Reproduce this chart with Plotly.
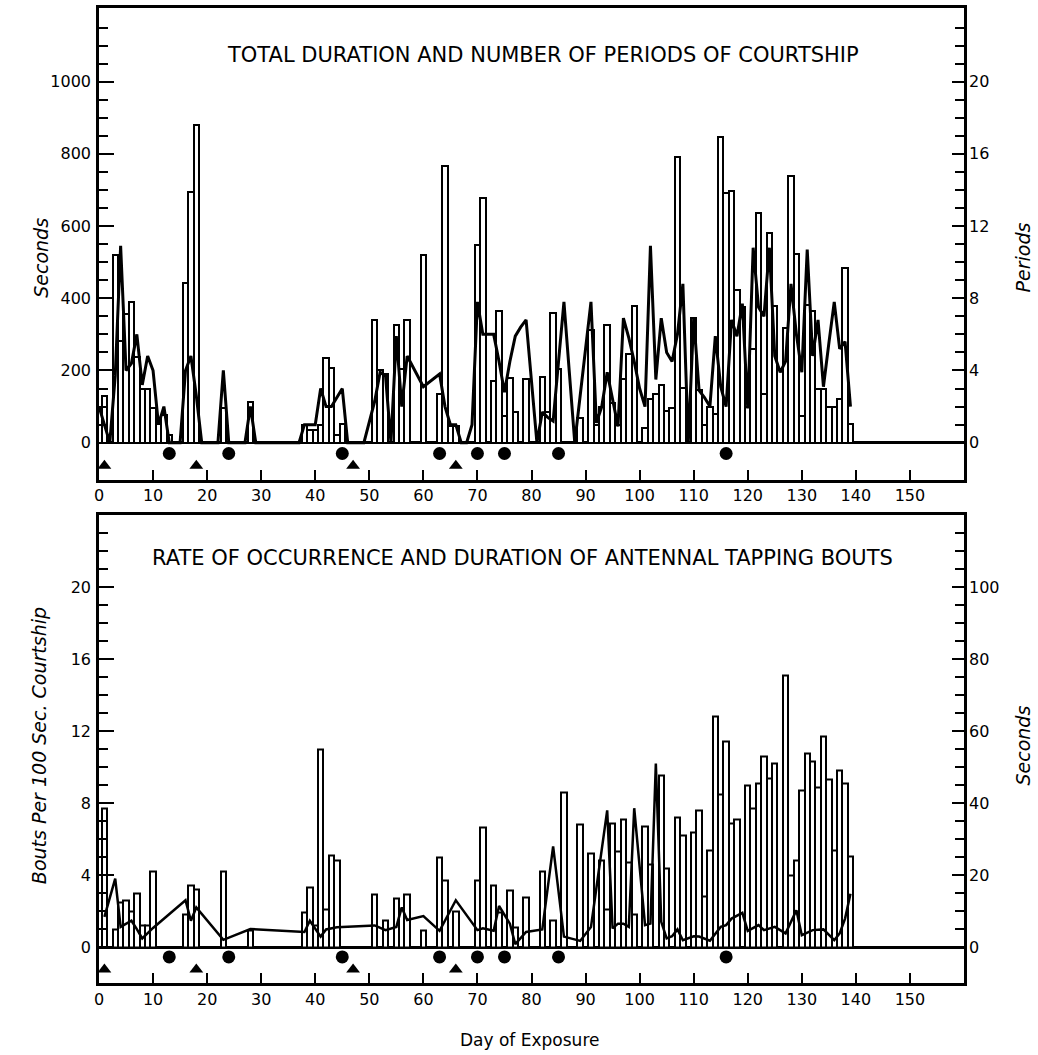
import plotly.graph_objects as go

# ---------------- Courtship: total duration (bars, s) and number of periods (line)
court_days = [0, 1, 3, 4, 5, 6, 7, 8, 9, 10, 11, 12, 13, 16, 17, 18, 23, 28,
              38, 39, 40, 41, 42, 43, 44, 45, 51, 52, 53, 55, 56, 57, 60, 63, 64, 65, 66,
              70, 71, 73, 74, 75, 76, 77, 79, 82, 83, 84, 85, 89, 91, 92, 93, 94, 95, 96, 97,
              98, 99, 101, 102, 103, 104, 105, 106, 107, 108, 110, 111, 112, 113, 114,
              115, 116, 117, 118, 119, 120, 121, 122, 123, 124, 125, 126, 127, 128, 129,
              130, 131, 132, 133, 134, 135, 136, 137, 138, 139]
court_seconds = [100, 130, 520, 282, 357, 391, 236, 150, 150, 95, 53, 76, 21, 443, 693, 880, 95, 113,
                 50, 35, 35, 50, 235, 207, 20, 51, 340, 200, 190, 327, 205, 340, 520, 135, 767, 47, 47,
                 548, 678, 170, 364, 75, 180, 84, 176, 182, 84, 360, 203, 69, 311, 49, 99, 325, 109, 49, 176,
                 247, 378, 40, 121, 134, 161, 87, 95, 792, 152, 345, 145, 50, 100, 80,
                 848, 692, 698, 422, 376, 100, 260, 635, 136, 581, 378, 200, 319, 739, 523,
                 75, 380, 366, 150, 150, 99, 99, 122, 484, 51]

period_days = [0, 1, 2, 3, 4, 5, 6, 7, 8, 9, 10, 11, 12, 13, 14, 15, 16, 17, 18, 19, 22, 23, 24,
               27, 28, 29, 37, 38, 39, 40, 41, 42, 43, 44, 45, 46, 49, 51, 52, 53, 54, 55, 56, 57,
               60, 63, 64, 65, 66, 67, 68, 69, 70, 71, 72, 73, 74, 75, 76, 77, 78, 79, 80, 81,
               82, 83, 84, 85, 86, 87, 88, 89, 90, 91, 92, 93, 94, 95, 96, 97, 98, 99, 100, 101,
               102, 103, 104, 105, 106, 107, 108, 109, 110, 111, 112, 113, 114, 115, 116, 117,
               118, 119, 120, 121, 122, 123, 124, 125, 126, 127, 128, 129, 130, 131, 132, 133,
               134, 135, 136, 137, 138, 139]
period_counts = [2, 1, 0, 3.7, 10.9, 4, 4.4, 6, 3.2, 4.8, 4, 1, 2, 0, 0, 0, 4, 4.8, 2.6, 0, 0, 4, 0,
                 0, 2, 0, 0, 1, 1, 1, 3, 2, 2, 2.5, 3, 0, 0, 2.3, 3.9, 3.7, 0, 5.9, 2, 4.8,
                 3.1, 3.8, 2, 1, 1, 0, 0, 1, 7.8, 6, 6, 6, 4.5, 2.8, 4.5, 5.9, 6.4, 6.8, 3.4, 0,
                 1.7, 1.4, 1.2, 4.5, 7.8, 3.9, 0, 2.6, 5.2, 7.8, 1.1, 2, 3.9, 2.5, 0.9, 6.9, 5.8, 4.5, 3, 2,
                 10.9, 3.5, 6.9, 5, 4.5, 6, 8.8, 0, 6.9, 2.9, 2.5, 2, 5.9, 3.1, 2, 6.8,
                 5.9, 7.7, 1.9, 10.8, 7.5, 7, 10.8, 4.8, 3.9, 4.5, 8.8, 6, 3.9, 10.7, 4.8, 6.8,
                 3.1, 5.5, 7.8, 5.2, 5.6, 2]

# ---------------- Antennal tapping: bout rate (bars) and bout duration (line, s)
tap_days = [1, 3, 4, 5, 6, 7, 8, 9, 10, 16, 17, 18, 23, 28, 38, 39, 40, 41, 42, 43, 44,
            51, 53, 55, 56, 57, 60, 63, 64, 66, 70, 71, 73, 74, 76, 77, 79, 82, 84, 86, 89,
            91, 93, 94, 95, 96, 97, 98, 99, 101, 102, 104, 105, 107, 108, 110, 111, 112, 113,
            114, 115, 116, 117, 118, 120, 121, 122, 123, 124, 125, 127, 128, 129, 130, 131,
            132, 133, 134, 135, 136, 137, 138, 139]
tap_rate = [7.7, 1.0, 2.5, 2.6, 2.0, 3.0, 1.2, 1.2, 4.2, 1.8, 3.4, 3.2, 4.2, 0.9, 1.9, 3.3, 1.2, 11.0, 2.1, 5.1, 4.8,
            2.9, 1.5, 2.7, 2.1, 2.9, 0.9, 5.0, 3.7, 2.0, 3.7, 6.65, 3.4, 1.9, 3.15, 1.1, 2.75, 4.2, 1.5, 8.6, 6.8,
            5.2, 4.8, 2.1, 6.9, 5.3, 7.1, 4.7, 1.8, 6.7, 4.6, 9.55, 4.4, 7.2, 6.2, 6.4, 7.6, 2.8, 5.4,
            12.8, 8.5, 11.45, 6.9, 7.1, 9.0, 7.7, 9.1, 10.6, 9.4, 10.2, 15.1, 4.0, 4.8, 8.7, 10.75,
            10.3, 8.9, 11.7, 9.3, 5.4, 9.8, 9.1, 5.05]

bout_days = [1, 3, 4, 5, 6, 7, 8, 10, 16, 17, 18, 23, 28, 38, 39, 41, 42, 44, 51, 53, 55, 56, 57,
             60, 63, 66, 70, 71, 73, 74, 76, 77, 79, 82, 84, 86, 89, 91, 94, 95, 96, 97, 98, 99,
             101, 102, 103, 104, 105, 106, 107, 108, 110, 111, 113, 115, 116, 117, 119, 120,
             122, 123, 124, 125, 127, 129, 130, 131, 132, 133, 134, 136, 137, 138, 139]
bout_seconds = [8.4, 19, 5.6, 6.5, 7.3, 5, 2.4, 5.3, 13, 7.3, 11, 2, 5, 4.2, 7.3, 2.9, 4.9, 5.5, 6, 4.7, 5.6, 11, 7.5,
                8.6, 4.5, 13, 4.7, 5.2, 4.5, 11.4, 6.5, 0.8, 4.2, 4.9, 28, 2.9, 1.7, 5.6, 38, 5.2, 6.5, 6.5, 5.6, 38.6,
                6.1, 6.5, 51, 7, 2.4, 3, 4.9, 1.9, 3, 2.9, 1.75, 5.6, 6.1, 7.9, 9.5, 4.5,
                6.1, 4.7, 5.2, 5.6, 3.8, 10.2, 3.3, 4, 4.7, 4.8, 4.9, 1.9, 3.8, 7.9, 14.8]

# ---------------- event markers along the strip under each panel
triangle_days = [1, 18, 47, 66]
circle_days = [13, 24, 45, 63, 70, 75, 85, 116]

x_ticks = list(range(0, 160, 10))

INK = "black"
FONT = "'DejaVu Sans', sans-serif"

fig = go.Figure()

# top panel
fig.add_trace(go.Bar(x=court_days, y=court_seconds, width=1, xaxis="x", yaxis="y",
                     marker=dict(color="white", line=dict(color=INK, width=2)), showlegend=False))
fig.add_trace(go.Scatter(x=period_days, y=period_counts, xaxis="x", yaxis="y2", mode="lines",
                         line=dict(color=INK, width=3), showlegend=False))
fig.add_trace(go.Scatter(x=circle_days, y=[-30] * len(circle_days), xaxis="x", yaxis="y", mode="markers",
                         marker=dict(symbol="circle", size=13, color=INK), showlegend=False))
fig.add_trace(go.Scatter(x=triangle_days, y=[-64] * len(triangle_days), xaxis="x", yaxis="y", mode="markers",
                         marker=dict(symbol="triangle-up", size=12, color=INK), showlegend=False))

# bottom panel
fig.add_trace(go.Bar(x=tap_days, y=tap_rate, width=1, xaxis="x2", yaxis="y3",
                     marker=dict(color="white", line=dict(color=INK, width=2)), showlegend=False))
fig.add_trace(go.Scatter(x=bout_days, y=bout_seconds, xaxis="x2", yaxis="y4", mode="lines",
                         line=dict(color=INK, width=2.5), showlegend=False))
fig.add_trace(go.Scatter(x=circle_days, y=[-0.55] * len(circle_days), xaxis="x2", yaxis="y3", mode="markers",
                         marker=dict(symbol="circle", size=13, color=INK), showlegend=False))
fig.add_trace(go.Scatter(x=triangle_days, y=[-1.25] * len(triangle_days), xaxis="x2", yaxis="y3", mode="markers",
                         marker=dict(symbol="triangle-up", size=12, color=INK), showlegend=False))

tickfont = dict(family=FONT, size=16, color=INK)


def xaxis_cfg(anchor):
    return dict(anchor=anchor, range=[0, 160], tickmode="array", tickvals=x_ticks,
                ticks="inside", ticklen=10, tickwidth=2, tickcolor=INK,
                showline=True, mirror=True, linecolor=INK, linewidth=2.5,
                showgrid=False, zeroline=False, tickfont=tickfont)


def left_cfg(domain, rng, majors, minors):
    return dict(domain=domain, range=rng, tickmode="array", tickvals=majors,
                ticks="inside", ticklen=15, tickwidth=2, tickcolor=INK,
                minor=dict(tickmode="array", tickvals=minors, ticks="inside", ticklen=9,
                           tickwidth=2, tickcolor=INK, showgrid=False),
                showline=True, mirror=True, linecolor=INK, linewidth=2.5,
                showgrid=False, zeroline=True, zerolinecolor=INK, zerolinewidth=2.5,
                ticklabelstandoff=2, tickfont=tickfont)


def right_cfg(overlay, rng, majors, minors):
    return dict(overlaying=overlay, side="right", range=rng, tickmode="array", tickvals=majors,
                ticks="inside", ticklen=12, tickwidth=2, tickcolor=INK,
                minor=dict(tickmode="array", tickvals=minors, ticks="inside", ticklen=9,
                           tickwidth=2, tickcolor=INK, showgrid=False),
                showline=False, showgrid=False, zeroline=False,
                ticklabelstandoff=4, tickfont=tickfont)


sec_major = list(range(0, 1001, 200))
sec_minor = [v for v in range(50, 1200, 50) if v not in sec_major]
per_major = list(range(0, 21, 4))
per_minor = [v for v in range(1, 24) if v not in per_major]
rate_major = list(range(0, 21, 4))
rate_minor = [v for v in range(1, 24) if v not in rate_major]
dur_major = list(range(0, 101, 20))
dur_minor = [v for v in range(5, 120, 5) if v not in dur_major]

fig.update_layout(
    width=1038, height=1055,
    margin=dict(l=99, r=74, t=5, b=72),
    paper_bgcolor="white", plot_bgcolor="white",
    bargap=0,
    font=dict(family=FONT, color=INK),
    xaxis=xaxis_cfg("y"),
    xaxis2=xaxis_cfg("y3"),
    yaxis=left_cfg([0.5164, 1.0], [-102, 1204], sec_major, sec_minor),
    yaxis2=right_cfg("y", [-2.04, 24.08], per_major, per_minor),
    yaxis3=left_cfg([0.0, 0.4796], [-2, 24], rate_major, rate_minor),
    yaxis4=right_cfg("y3", [-10, 120], dur_major, dur_minor),
)

ann_font = dict(family=FONT, size=21, color=INK)
label_font = dict(family=FONT, size=19, color=INK, style="italic")
annotations = [
    dict(text="TOTAL DURATION AND NUMBER OF PERIODS OF COURTSHIP", x=0.513, y=0.952,
         font=ann_font),
    dict(text="RATE OF OCCURRENCE AND DURATION OF ANTENNAL TAPPING BOUTS", x=0.490, y=0.4356,
         font=ann_font),
    dict(text="Seconds", x=-0.068, y=0.744, textangle=-90, font=label_font),
    dict(text="Periods", x=1.068, y=0.744, textangle=-90, font=label_font),
    dict(text="Bouts Per 100 Sec. Courtship", x=-0.070, y=0.2434, textangle=-90, font=label_font),
    dict(text="Seconds", x=1.068, y=0.2434, textangle=-90, font=label_font),
    dict(text="Day of Exposure", x=0.498, y=-0.058, font=dict(family=FONT, size=17, color=INK)),
]
for a in annotations:
    a.update(xref="paper", yref="paper", showarrow=False, xanchor="center", yanchor="middle")
fig.update_layout(annotations=annotations)

fig.write_html("out.html")
